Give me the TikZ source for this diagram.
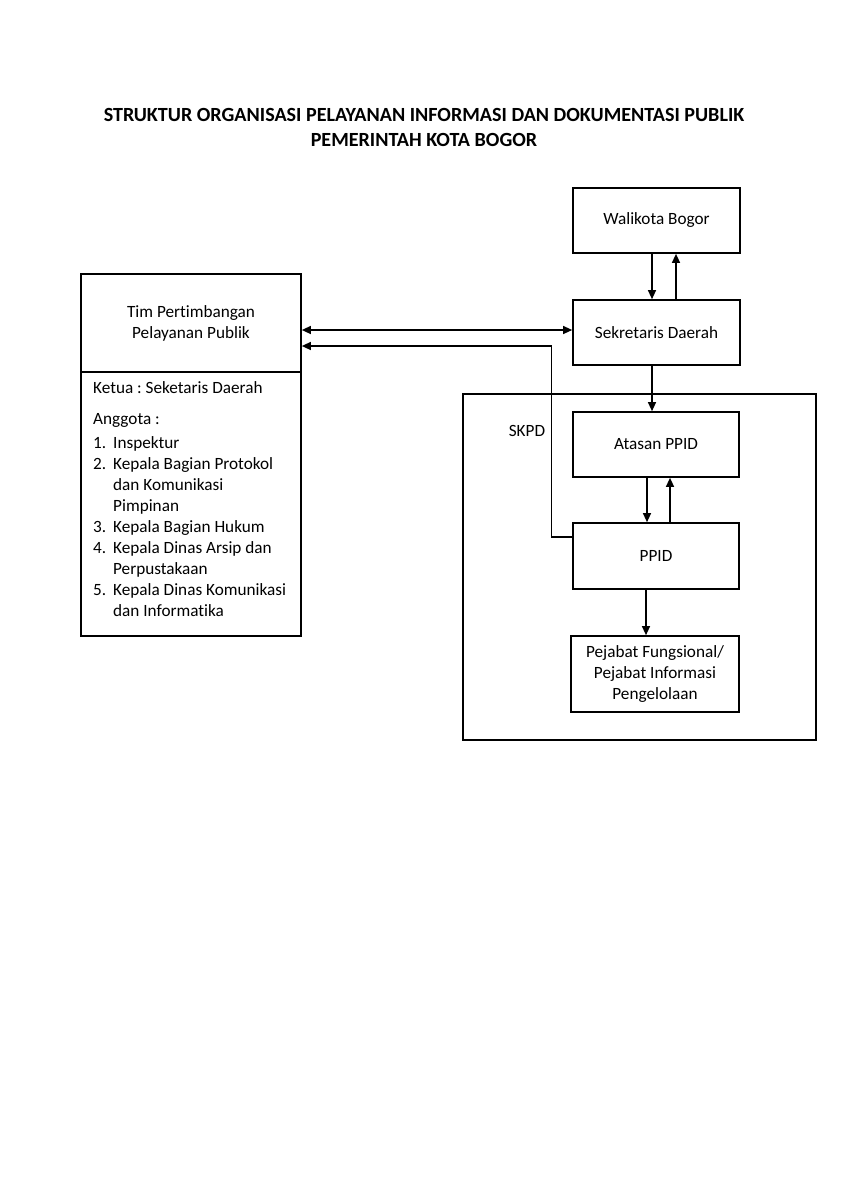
\documentclass[tikz,border=0pt]{standalone}
\usepackage{fontspec}
\setmainfont{Carlito}[Ligatures=NoCommon]
\usetikzlibrary{arrows.meta}
\frenchspacing
\begin{document}
\begin{tikzpicture}[x=1pt,y=-1pt,
  box/.style={draw,line width=1.7pt,rectangle,inner sep=0pt,align=center,font=\fontsize{17.2}{21}\selectfont},
  arr/.style={line width=1.3pt,-{Triangle[length=9pt,width=8pt]}},
  arrb/.style={line width=1.3pt,{Triangle[length=9pt,width=8pt]}-{Triangle[length=9pt,width=8pt]}},
  txt/.style={font=\fontsize{17.2}{21}\selectfont}]
\useasboundingbox[fill=white] (0,0) rectangle (848,1200);
\node[font=\bfseries\fontsize{20.1}{25}\selectfont] (t1) at (424,115) {STRUKTUR ORGANISASI PELAYANAN INFORMASI DAN DOKUMENTASI PUBLIK};
\node[font=\bfseries\fontsize{20.1}{25}\selectfont] (t2) at (424,140) {PEMERINTAH KOTA BOGOR};
\node[draw,line width=1.2pt,minimum width=353pt,minimum height=346pt,inner sep=0pt] (skpd) at (639.5,567) {};
\node[txt] (skpdl) at (527,431) {SKPD};
\node[box,minimum width=167pt,minimum height=65pt] (wal) at (656.5,220.5) {Walikota Bogor};
\node[box,minimum width=167pt,minimum height=65pt] (sek) at (656.5,332.5) {Sekretaris Daerah};
\node[box,minimum width=220pt,minimum height=98pt] (tim) at (191,323) {Tim Pertimbangan\\Pelayanan Publik};
\node[box,minimum width=220pt,minimum height=264pt] (timl) at (191,504) {};
\node[box,minimum width=166pt,minimum height=65pt] (ata) at (656,444.5) {Atasan PPID};
\node[box,minimum width=166pt,minimum height=66pt] (ppid) at (656,556) {PPID};
\node[box,minimum width=168pt,minimum height=76pt] (pej) at (655,674) {Pejabat Fungsional/\\Pejabat Informasi\\Pengelolaan};
\node[txt,anchor=north west,align=left,inner sep=0pt] (list) at (93,381) {Ketua : Seketaris Daerah\\[10pt]
Anggota :\\[3pt]
\makebox[20pt][l]{1.}Inspektur\\
\makebox[20pt][l]{2.}Kepala Bagian Protokol\\
\makebox[20pt][l]{}dan Komunikasi\\
\makebox[20pt][l]{}Pimpinan\\
\makebox[20pt][l]{3.}Kepala Bagian Hukum\\
\makebox[20pt][l]{4.}Kepala Dinas Arsip dan\\
\makebox[20pt][l]{}Perpustakaan\\
\makebox[20pt][l]{5.}Kepala Dinas Komunikasi\\
\makebox[20pt][l]{}dan Informatika};
% arrows
\draw[arr] ([xshift=-4.5pt]wal.south) -- ([xshift=-4.5pt]wal.south |- sek.north);
\draw[arr] ([xshift=19.5pt]sek.north) -- ([xshift=19.5pt]sek.north |- wal.south);
\draw[arrb] ([yshift=-7pt]tim.east) -- ([yshift=-7pt]tim.east -| sek.west);
\draw[arr] ([yshift=19pt]ppid.west) -- ++(-21,0) |- ([yshift=-23pt]tim.east);
\draw[arr] ([xshift=-4.5pt]sek.south) -- ([xshift=-4.5pt]sek.south |- ata.north);
\draw[arr] ([xshift=-9pt]ata.south) -- ([xshift=-9pt]ata.south |- ppid.north);
\draw[arr] ([xshift=14pt]ppid.north) -- ([xshift=14pt]ppid.north |- ata.south);
\draw[arr] ([xshift=-10pt]ppid.south) -- ([xshift=-10pt]ppid.south |- pej.north);
\end{tikzpicture}
\end{document}
